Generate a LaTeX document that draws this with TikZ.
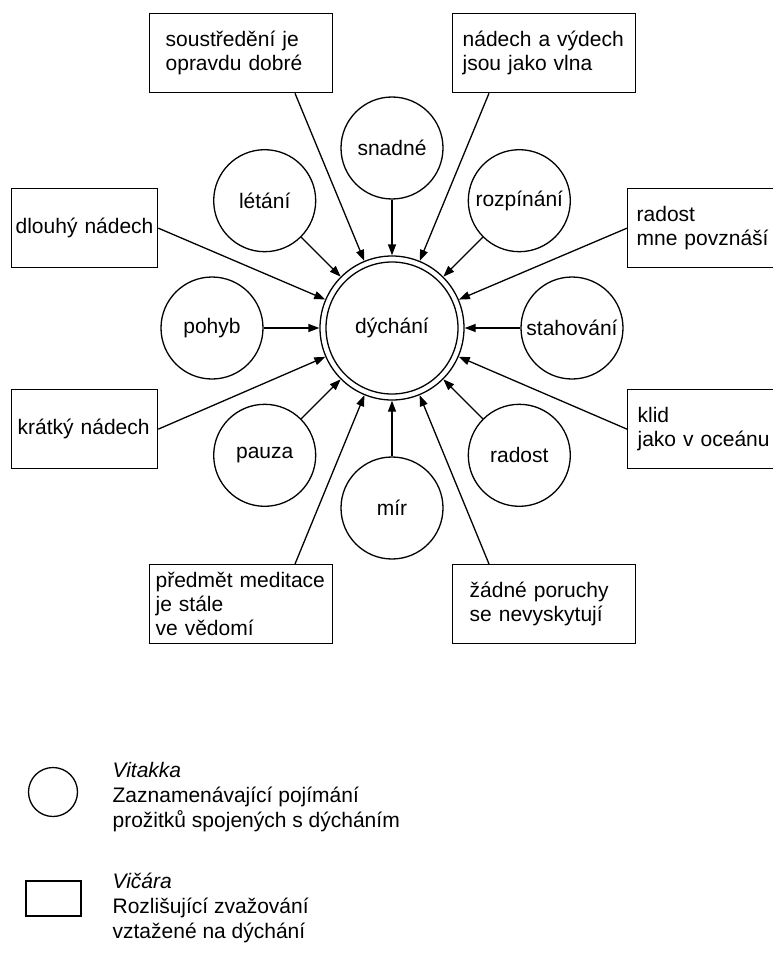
\documentclass[tikz,border=0pt]{standalone}
\usepackage{fontspec}
\setmainfont{Liberation Sans}
\usetikzlibrary{arrows.meta}
\begin{document}
\begin{tikzpicture}[x=1pt,y=-1pt,
  line width=1.3pt,
  every node/.style={font=\fontsize{21}{24}\selectfont},
  hub/.style={draw, circle, minimum size=144pt, inner sep=0pt},
  idea/.style={draw, circle, minimum size=102pt, inner sep=0pt},
  note/.style={draw, rectangle, anchor=north west, minimum height=79pt, inner ysep=2pt, align=left},
  feed/.style={-{Triangle[length=11pt,width=8pt]}},
  legendtext/.style={anchor=north west, inner sep=0pt, align=left, font=\fontsize{21}{25}\selectfont},
]
\useasboundingbox (0,0) rectangle (772,960);

% central node with its double outline
\node[hub] (c) at (392,328) {dýchání};
\draw (c.center) circle[radius=66pt];

% vitakka: circles around the centre
\node[idea] (snadne)    at (392,148)     {snadné};
\node[idea] (rozpinani) at (519.3,200.7) {rozpínání};
\node[idea] (stahovani) at (572,328)     {stahování};
\node[idea] (radost)    at (519.3,455.3) {radost};
\node[idea] (mir)       at (392,508)     {mír};
\node[idea] (pauza)     at (264.7,455.3) {pauza};
\node[idea] (pohyb)     at (212,328)     {pohyb};
\node[idea] (letani)    at (264.7,200.7) {létání};

% vicara: boxes on the outside
\node[note, inner xsep=16pt, text width=151pt] (t1) at (149,13)  {soustředění~je\\opravdu~dobré};
\node[note, inner xsep=10pt, text width=163pt] (t2) at (452,13)  {nádech~a~výdech\\jsou~jako~vlna};
\node[note, inner xsep=4pt,  text width=138pt] (l1) at (11,188)  {dlouhý~nádech};
\node[note, inner xsep=6pt,  text width=134pt] (l2) at (11,389)  {krátký~nádech};
\node[note, inner xsep=9pt,  text width=128pt] (r1) at (627,188) {radost\\mne~povznáší};
\node[note, inner xsep=10pt, text width=126pt] (r2) at (627,389) {klid\\jako~v~oceánu};
\node[note, inner xsep=6pt,  text width=171pt] (b1) at (149,564) {předmět~meditace\\je~stále\\ve~vědomí};
\node[note, inner xsep=17pt, text width=149pt] (b2) at (452,564) {žádné~poruchy\\se~nevyskytují};

% connectors into the centre
\foreach \n in {snadne,rozpinani,stahovani,radost,mir,pauza,pohyb,letani}
  \draw[feed] (\n) -- (c);
\draw[feed] ([xshift=146pt]t1.south west) -- (c);
\draw[feed] ([xshift=37pt]t2.south west) -- (c);
\draw[feed] (l1.east) -- (c);
\draw[feed] (l2.east) -- (c);
\draw[feed] (r1.west) -- (c);
\draw[feed] (r2.west) -- (c);
\draw[feed] ([xshift=146pt]b1.north west) -- (c);
\draw[feed] ([xshift=37pt]b2.north west) -- (c);

% legend
\node[draw, circle, minimum size=49pt, inner sep=0pt] (keyv) at (53,792) {};
\node[legendtext] (keyvt) at (112,762) {\textit{Vitakka}\\Zaznamenávající pojímání\\prožitků spojených s dýcháním};
\node[draw, rectangle, minimum width=55pt, minimum height=35pt, inner sep=0pt] (keyc) at (53.5,898.5) {};
\node[legendtext] (keyct) at (112,872) {\textit{Vičára}\\Rozlišující zvažování\\vztažené na dýchání};
\end{tikzpicture}
\end{document}
